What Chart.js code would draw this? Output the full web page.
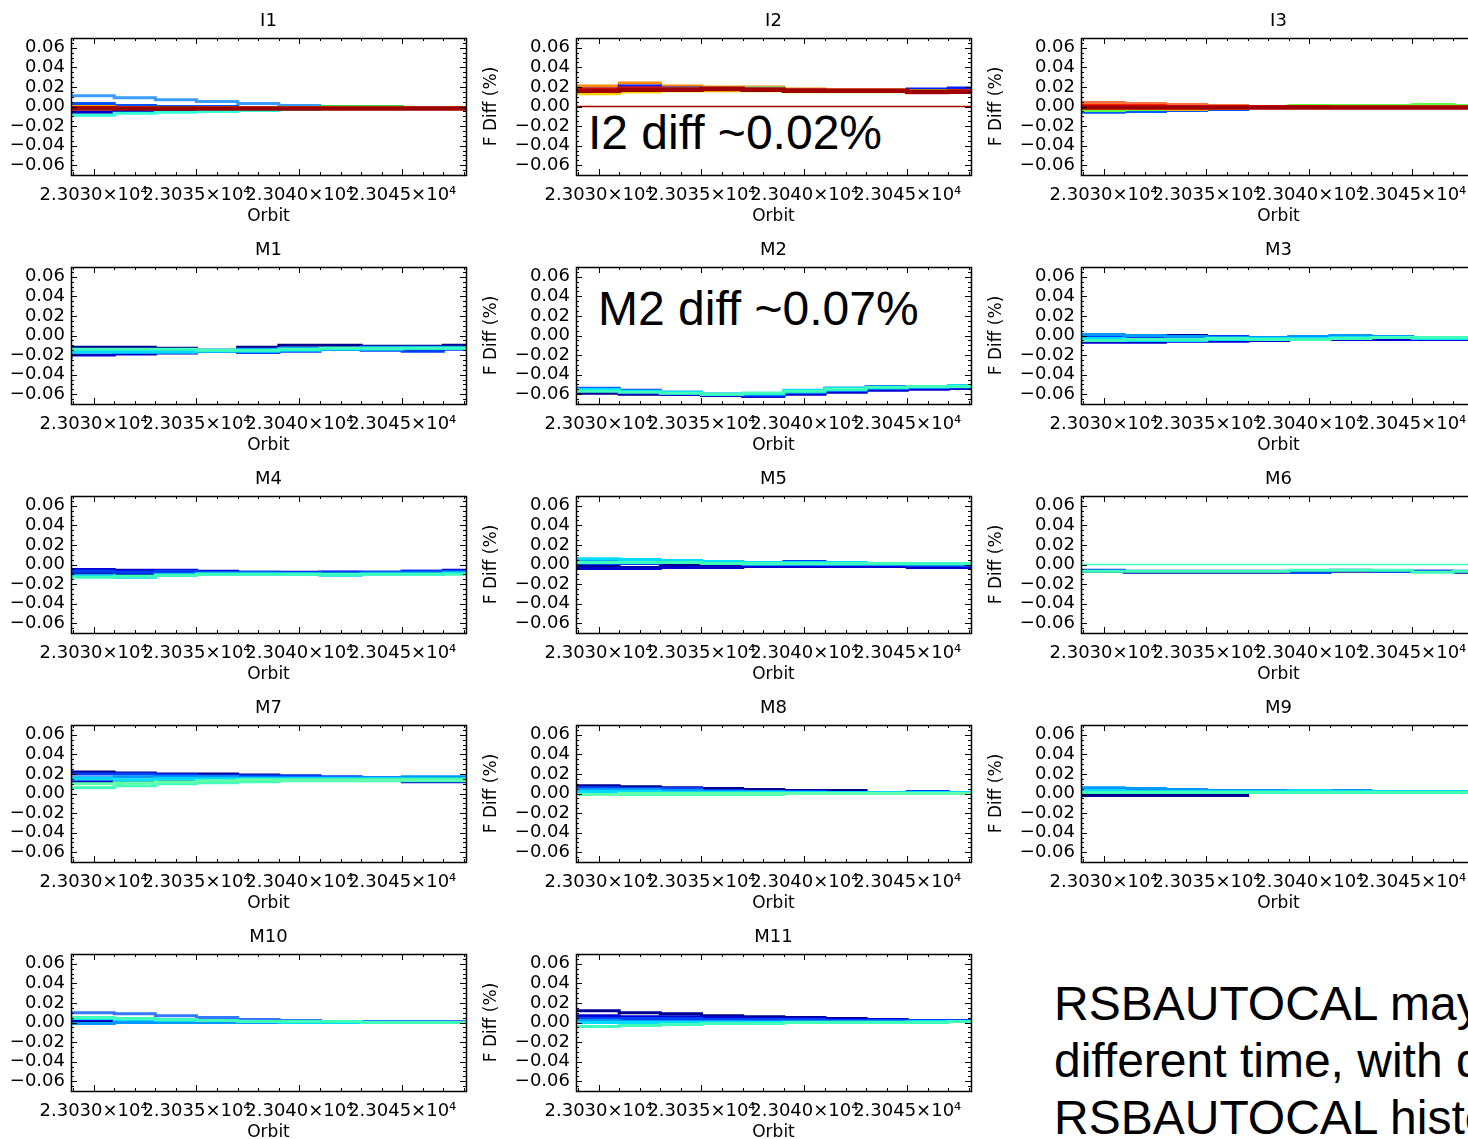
<!DOCTYPE html>
<html>
<head>
<meta charset="utf-8">
<script src="https://cdn.jsdelivr.net/npm/chart.js@4.4.1/dist/chart.umd.min.js"></script>
<style>
  html, body { margin: 0; padding: 0; background: #fff; }
  body { width: 1468px; height: 1139px; overflow: hidden; position: relative; }
  .panel { position: absolute; }
  .note { position: absolute; font-family: "Liberation Sans", Arial, sans-serif; color: #000; white-space: nowrap; }
</style>
</head>
<body>

<div class="note" style="left:588px; top:109px; font-size:48px; line-height:1;">I2 diff ~0.02%</div>
<div class="note" style="left:598px; top:285px; font-size:48px; line-height:1;">M2 diff ~0.07%</div>
<div class="note" style="left:1054px; top:975px; font-size:48px; line-height:57px;">
  RSBAUTOCAL may run at<br>different time, with different<br>RSBAUTOCAL history
</div>

<script>
// orbit step edges (shared by every panel)
const orbits = [23028.9, 23031, 23033, 23035, 23037, 23039, 23041, 23043, 23045, 23047, 23048.1];
const xTicks = [23030, 23035, 23040, 23045];
const yTicks = [-0.06, -0.04, -0.02, 0, 0.02, 0.04, 0.06];
const bands = ["I1", "I2", "I3", "M1", "M2", "M3", "M4", "M5", "M6", "M7", "M8", "M9", "M10", "M11"];

// F diff (%) per detector, one row per line; later rows are painted on top
const I1 = [
  [0.014, 0.011, 0.009, 0.007, 0.005, 0.003, 0.001, 0.000, 0.000, -0.001, -0.001],
  [0.004, 0.003, 0.001, 0.000, 0.000, -0.001, -0.001, -0.001, -0.001, -0.001, -0.001],
  [-0.008, -0.006, -0.005, -0.004, -0.003, -0.002, -0.002, -0.002, -0.002, -0.002, -0.002],
  [-0.011, -0.009, -0.007, -0.006, -0.005, -0.004, -0.003, -0.002, -0.002, -0.002, -0.002],
  [-0.001, -0.001, -0.001, -0.001, -0.001, -0.001, -0.001, 0.000, 0.000, -0.001, -0.001],
  [0.001, 0.000, -0.001, -0.002, -0.001, -0.001, -0.001, -0.001, -0.001, -0.001, -0.001],
  [-0.001, -0.001, -0.002, -0.002, -0.002, -0.002, -0.002, -0.002, -0.002, -0.002, -0.002],
  [-0.002, -0.002, -0.002, -0.002, -0.002, -0.002, -0.002, -0.002, -0.002, -0.002, -0.002]
];
const I2 = [
  [0.000, 0.000, 0.000, 0.000, 0.000, 0.000, 0.000, 0.000, 0.000, 0.000, 0.000],
  [0.023, 0.021, 0.024, 0.021, 0.020, 0.020, 0.018, 0.017, 0.017, 0.017, 0.018],
  [0.016, 0.018, 0.021, 0.019, 0.018, 0.018, 0.016, 0.016, 0.016, 0.018, 0.019],
  [0.018, 0.017, 0.018, 0.018, 0.019, 0.019, 0.017, 0.016, 0.016, 0.016, 0.016],
  [0.013, 0.014, 0.015, 0.016, 0.017, 0.017, 0.015, 0.015, 0.015, 0.016, 0.016],
  [0.014, 0.013, 0.015, 0.016, 0.016, 0.016, 0.016, 0.016, 0.016, 0.015, 0.016],
  [0.017, 0.018, 0.019, 0.018, 0.019, 0.018, 0.017, 0.016, 0.016, 0.014, 0.016],
  [0.016, 0.016, 0.017, 0.017, 0.018, 0.017, 0.016, 0.016, 0.016, 0.015, 0.015]
];
const I3 = [
  [-0.007, -0.006, -0.005, -0.004, -0.003, -0.001, 0.000, 0.000, 0.001, 0.000, 0.000],
  [-0.004, -0.004, -0.003, -0.002, -0.001, 0.000, 0.001, 0.001, 0.001, 0.002, 0.001],
  [0.006, 0.004, 0.003, 0.002, 0.001, 0.000, 0.000, 0.000, 0.000, 0.000, 0.000],
  [-0.002, -0.002, -0.002, -0.003, -0.002, -0.001, 0.000, 0.000, 0.000, 0.000, 0.000],
  [0.002, 0.001, 0.001, 0.000, 0.000, 0.000, 0.000, -0.001, -0.001, -0.001, -0.001],
  [-0.001, -0.001, -0.001, -0.001, -0.001, -0.001, -0.001, -0.001, -0.001, -0.001, -0.001]
];
const M1 = [
  [-0.010, -0.012, -0.012, -0.013, -0.015, -0.012, -0.010, -0.010, -0.011, -0.011, -0.010],
  [-0.024, -0.020, -0.019, -0.018, -0.016, -0.017, -0.015, -0.014, -0.014, -0.014, -0.013],
  [-0.018, -0.015, -0.015, -0.015, -0.016, -0.017, -0.016, -0.014, -0.015, -0.016, -0.014],
  [-0.014, -0.015, -0.015, -0.016, -0.015, -0.014, -0.013, -0.013, -0.012, -0.012, -0.012],
  [-0.017, -0.017, -0.017, -0.017, -0.016, -0.016, -0.015, -0.014, -0.014, -0.013, -0.013],
  [-0.013, -0.014, -0.014, -0.014, -0.015, -0.015, -0.014, -0.013, -0.013, -0.013, -0.013]
];
const M2 = [
  [-0.060, -0.059, -0.060, -0.060, -0.061, -0.062, -0.059, -0.057, -0.055, -0.054, -0.054],
  [-0.058, -0.057, -0.059, -0.060, -0.061, -0.062, -0.060, -0.058, -0.056, -0.055, -0.054],
  [-0.052, -0.054, -0.056, -0.058, -0.060, -0.061, -0.057, -0.054, -0.052, -0.053, -0.053],
  [-0.055, -0.056, -0.057, -0.059, -0.060, -0.060, -0.058, -0.056, -0.054, -0.053, -0.052],
  [-0.054, -0.055, -0.057, -0.058, -0.060, -0.059, -0.056, -0.054, -0.053, -0.052, -0.051],
  [-0.056, -0.057, -0.058, -0.059, -0.060, -0.059, -0.057, -0.055, -0.053, -0.052, -0.052]
];
const M3 = [
  [-0.003, -0.003, -0.002, 0.000, -0.001, -0.002, -0.002, -0.001, -0.001, -0.002, -0.002],
  [-0.009, -0.007, -0.007, -0.006, -0.006, -0.005, -0.004, -0.004, -0.004, -0.004, -0.004],
  [-0.001, -0.002, -0.003, -0.001, -0.001, -0.002, -0.002, -0.001, -0.001, -0.002, -0.002],
  [0.003, 0.001, 0.000, -0.001, -0.002, -0.002, -0.001, 0.000, -0.001, -0.002, -0.002],
  [-0.004, -0.003, -0.005, -0.005, -0.004, -0.003, -0.003, -0.002, -0.002, -0.003, -0.003],
  [-0.005, -0.005, -0.004, -0.004, -0.003, -0.004, -0.004, -0.003, -0.002, -0.002, -0.002]
];
const M4 = [
  [-0.009, -0.009, -0.010, -0.009, -0.009, -0.009, -0.009, -0.008, -0.009, -0.008, -0.008],
  [-0.004, -0.005, -0.006, -0.006, -0.007, -0.008, -0.008, -0.008, -0.008, -0.007, -0.006],
  [-0.006, -0.007, -0.008, -0.007, -0.008, -0.008, -0.009, -0.008, -0.008, -0.007, -0.007],
  [-0.010, -0.011, -0.012, -0.010, -0.009, -0.009, -0.009, -0.010, -0.009, -0.009, -0.008],
  [-0.012, -0.012, -0.013, -0.011, -0.010, -0.010, -0.010, -0.011, -0.010, -0.010, -0.009],
  [-0.013, -0.013, -0.012, -0.011, -0.010, -0.010, -0.010, -0.010, -0.010, -0.010, -0.010]
];
const M5 = [
  [-0.002, -0.002, -0.003, -0.001, -0.001, -0.001, -0.001, -0.002, -0.002, -0.002, -0.002],
  [-0.004, -0.004, -0.004, -0.003, -0.003, -0.002, -0.002, -0.002, -0.002, -0.003, -0.003],
  [0.001, 0.001, 0.001, 0.002, 0.002, 0.001, 0.003, 0.001, 0.000, -0.001, -0.001],
  [0.004, 0.003, 0.003, 0.002, 0.001, 0.000, 0.000, 0.000, 0.000, 0.000, 0.000],
  [0.007, 0.006, 0.005, 0.004, 0.003, 0.002, 0.002, 0.002, 0.001, 0.001, 0.001],
  [0.003, 0.002, 0.002, 0.002, 0.001, 0.001, 0.001, 0.001, 0.001, 0.001, 0.001]
];
const M6 = [
  [-0.007, -0.007, -0.008, -0.008, -0.008, -0.008, -0.008, -0.007, -0.007, -0.007, -0.008],
  [-0.006, -0.006, -0.007, -0.007, -0.007, -0.007, -0.008, -0.006, -0.007, -0.007, -0.007],
  [-0.007, -0.007, -0.007, -0.007, -0.007, -0.007, -0.006, -0.006, -0.006, -0.008, -0.007],
  [0.000, 0.000, 0.000, 0.000, 0.000, 0.000, 0.000, 0.000, 0.000, 0.000, 0.000]
];
const M7 = [
  [0.025, 0.022, 0.021, 0.020, 0.020, 0.019, 0.018, 0.016, 0.015, 0.015, 0.015],
  [0.011, 0.012, 0.013, 0.014, 0.014, 0.014, 0.014, 0.014, 0.014, 0.012, 0.012],
  [0.020, 0.020, 0.020, 0.019, 0.018, 0.018, 0.018, 0.017, 0.016, 0.016, 0.016],
  [0.017, 0.016, 0.017, 0.017, 0.017, 0.016, 0.016, 0.016, 0.016, 0.017, 0.017],
  [0.015, 0.015, 0.014, 0.015, 0.015, 0.015, 0.015, 0.015, 0.015, 0.015, 0.015],
  [0.003, 0.006, 0.008, 0.010, 0.011, 0.012, 0.013, 0.013, 0.013, 0.013, 0.013],
  [0.008, 0.010, 0.011, 0.012, 0.013, 0.014, 0.014, 0.014, 0.014, 0.014, 0.014]
];
const M8 = [
  [0.010, 0.008, 0.007, 0.006, 0.005, 0.004, 0.003, 0.003, 0.001, 0.001, 0.001],
  [0.007, 0.006, 0.005, 0.005, 0.003, 0.002, 0.002, 0.001, 0.001, 0.002, 0.001],
  [0.004, 0.004, 0.004, 0.003, 0.002, 0.002, 0.001, 0.001, 0.001, 0.001, 0.001],
  [0.002, 0.002, 0.002, 0.001, 0.001, 0.001, 0.001, 0.001, 0.001, 0.001, 0.001],
  [0.000, -0.001, -0.001, -0.001, -0.001, -0.001, 0.000, 0.000, 0.000, 0.000, 0.000],
  [-0.002, -0.001, 0.000, 0.000, 0.000, 0.000, 0.000, 0.000, 0.000, 0.000, 0.000]
];
const M9 = [
  [-0.003, -0.002, -0.002, -0.002, -0.002, 0.002, 0.002, 0.002, 0.002, 0.001, 0.001],
  [0.005, 0.004, 0.003, 0.003, 0.002, 0.002, 0.002, 0.002, 0.002, 0.002, 0.002],
  [0.005, 0.004, 0.004, 0.003, 0.003, 0.002, 0.002, 0.002, 0.002, 0.001, 0.001],
  [0.007, 0.006, 0.005, 0.004, 0.003, 0.003, 0.003, 0.003, 0.002, 0.002, 0.002],
  [0.003, 0.003, 0.002, 0.002, 0.002, 0.002, 0.003, 0.002, 0.002, 0.002, 0.002],
  [0.001, 0.001, 0.001, 0.001, 0.001, 0.001, 0.001, 0.001, 0.001, 0.001, 0.001]
];
const M10 = [
  [0.001, 0.001, 0.001, 0.001, 0.003, 0.003, 0.002, 0.001, 0.001, 0.001, 0.001],
  [0.004, 0.003, 0.003, 0.003, 0.003, 0.002, 0.002, 0.001, 0.001, 0.001, 0.001],
  [0.012, 0.010, 0.009, 0.007, 0.005, 0.003, 0.002, 0.001, 0.001, 0.001, 0.001],
  [-0.001, -0.001, 0.000, 0.000, 0.000, 0.000, 0.000, 0.000, 0.000, 0.000, 0.000],
  [0.003, 0.004, 0.003, 0.002, 0.002, 0.001, 0.000, 0.000, 0.000, 0.000, 0.000],
  [0.006, 0.005, 0.004, 0.003, 0.002, 0.001, 0.001, 0.001, 0.000, 0.000, 0.000]
];
const M11 = [
  [0.015, 0.012, 0.010, 0.009, 0.007, 0.006, 0.005, 0.004, 0.002, 0.002, 0.002],
  [0.008, 0.007, 0.006, 0.006, 0.005, 0.004, 0.004, 0.003, 0.003, 0.002, 0.002],
  [0.005, 0.004, 0.004, 0.004, 0.003, 0.003, 0.003, 0.002, 0.002, 0.002, 0.002],
  [0.002, 0.002, 0.001, 0.001, 0.001, 0.001, 0.001, 0.001, 0.001, 0.001, 0.001],
  [0.000, 0.000, 0.000, 0.000, 0.000, 0.000, 0.000, 0.000, 0.000, 0.001, 0.001],
  [-0.006, -0.004, -0.003, -0.002, -0.001, -0.001, 0.000, 0.000, 0.000, 0.000, 0.001]
];

// line colours, same order as the rows above
const I1_COLORS = ["#3a9cff", "#0050ff", "#0000c8", "#30ffd8", "#40d040", "#ff9a00", "#ff2000", "#9a0000"];
const I2_COLORS = ["#a00000", "#ff8a00", "#0020ff", "#30ffd0", "#c8ff00", "#ffd000", "#ff1a00", "#a00000"];
const I3_COLORS = ["#0058ff", "#60ff40", "#ff7040", "#ffa800", "#ff1a00", "#a00000"];
const BLUES = ["#000090", "#0000d0", "#0040ff", "#0098ff", "#00dcff", "#40ffb8"];
const BLUES_B = ["#000090", "#0040ff", "#0098ff", "#00dcff", "#40ffb8", "#60ffa8"];
const M6_COLORS = ["#000090", "#0050ff", "#40ffb8", "#40ffb8"];
const M7_COLORS = ["#000090", "#0000d0", "#0040ff", "#0098ff", "#00dcff", "#40ffb8", "#60ffa8"];
const M10_COLORS = ["#000090", "#0000d0", "#3478ff", "#0098ff", "#00dcff", "#40ffb8"];
// rows drawn as thin reference lines, and the heavy dark red bands
const THIN = { I2: [0], M6: [3] };
const HEAVY = { I1: [7], I2: [7], I3: [5] };

const SERIES = { I1, I2, I3, M1, M2, M3, M4, M5, M6, M7, M8, M9, M10, M11 };
const COLORS = {
  I1: I1_COLORS, I2: I2_COLORS, I3: I3_COLORS,
  M1: BLUES, M2: BLUES, M3: BLUES, M4: BLUES, M5: BLUES, M6: M6_COLORS,
  M7: M7_COLORS, M8: BLUES_B, M9: BLUES, M10: M10_COLORS, M11: BLUES
};

const FONT = "DejaVu Sans";
const colLeft = [71, 576, 1081];
const rowTop = [38, 267, 496, 725, 954];
const plotW = 395, plotH = 137, padL = 100, padT = 38, padB = 52, padR = 20;

function fmtY(v) {
  return (v < 0 ? "\u2212" : "") + Math.abs(v).toFixed(2);
}

// IDL style box with inward ticks on all four sides, plus the band name
const frameTicks = {
  id: "frameTicks",
  afterDraw(chart, args, opts) {
    const { ctx, chartArea: a, scales } = chart;
    const x = scales.x, y = scales.y;
    ctx.save();
    ctx.strokeStyle = "#000";
    ctx.lineWidth = 1;
    ctx.beginPath();
    for (let o = 23029; o <= 23048; o++) {
      const px = Math.round(x.getPixelForValue(o)) + 0.5;
      const len = xTicks.includes(o) ? 6 : 3;
      ctx.moveTo(px, a.bottom); ctx.lineTo(px, a.bottom - len);
      ctx.moveTo(px, a.top); ctx.lineTo(px, a.top + len);
    }
    for (let k = -13; k <= 13; k++) {
      const py = Math.round(y.getPixelForValue(k * 0.005)) + 0.5;
      const len = k % 4 === 0 ? 6 : 3;
      ctx.moveTo(a.left, py); ctx.lineTo(a.left + len, py);
      ctx.moveTo(a.right, py); ctx.lineTo(a.right - len, py);
    }
    ctx.stroke();
    ctx.lineWidth = 1.5;
    ctx.strokeRect(Math.round(a.left) + 0.5, Math.round(a.top) + 0.5, Math.round(a.width), Math.round(a.height));

    ctx.fillStyle = "#000";
    ctx.font = "18px " + FONT;
    ctx.textAlign = "center";
    ctx.textBaseline = "middle";
    ctx.fillText(opts.name, (a.left + a.right) / 2, a.top - 17);
    ctx.restore();
  }
};

function makePanel(name, idx) {
  const col = idx % 3, row = Math.floor(idx / 3);
  const div = document.createElement("div");
  div.className = "panel";
  div.style.left = (colLeft[col] - padL) + "px";
  div.style.top = (rowTop[row] - padT) + "px";
  const canvas = document.createElement("canvas");
  canvas.width = padL + plotW + padR;
  canvas.height = padT + plotH + padB;
  div.appendChild(canvas);
  document.body.appendChild(div);

  const series = SERIES[name];
  const colors = COLORS[name];
  const thin = THIN[name] || [];
  const heavy = HEAVY[name] || [];
  let datasets = series.map((vals, i) => ({
    data: vals.map((v, j) => ({ x: orbits[j], y: v })),
    borderColor: colors[i],
    borderWidth: thin.includes(i) ? 1.5 : (heavy.includes(i) ? 4.5 : 3),
    pointRadius: 0,
    stepped: "after",
    fill: false,
    clip: 0
  }));
  datasets.reverse(); // Chart.js paints the first dataset last

  new Chart(canvas, {
    type: "line",
    data: { datasets: datasets },
    options: {
      responsive: false,
      animation: false,
      events: [],
      layout: { padding: { left: 0, right: padR, top: padT, bottom: 0 } },
      plugins: {
        legend: { display: false },
        tooltip: { enabled: false },
        title: { display: false },
        frameTicks: { name: name }
      },
      scales: {
        x: {
          type: "linear", min: 23028.9, max: 23048.1,
          grid: { display: false, drawTicks: false },
          border: { display: false },
          afterBuildTicks: s => { s.ticks = xTicks.map(v => ({ value: v })); },
          afterFit: s => { s.height = padB; },
          ticks: {
            color: "#000", font: { family: FONT, size: 18 }, padding: 10,
            maxRotation: 0, autoSkip: false,
            callback: v => (v / 1e4).toFixed(4) + "\u00d710\u2074"
          },
          title: {
            display: true, text: "Orbit", color: "#000",
            font: { family: FONT, size: 17 }, padding: { top: 0, bottom: 0.5 }
          }
        },
        y: {
          min: -0.07, max: 0.07,
          grid: { display: false, drawTicks: false },
          border: { display: false },
          afterBuildTicks: s => { s.ticks = yTicks.map(v => ({ value: v })); },
          afterFit: s => { s.width = padL; },
          ticks: {
            color: "#000", font: { family: FONT, size: 18 }, padding: 6,
            autoSkip: false, callback: v => fmtY(v)
          },
          title: {
            display: true, text: "F Diff (%)", color: "#000",
            font: { family: FONT, size: 17 }, padding: { top: 5, bottom: 0 }
          }
        }
      }
    },
    plugins: [frameTicks]
  });
}

bands.forEach((b, i) => makePanel(b, i));
</script>
</body>
</html>
